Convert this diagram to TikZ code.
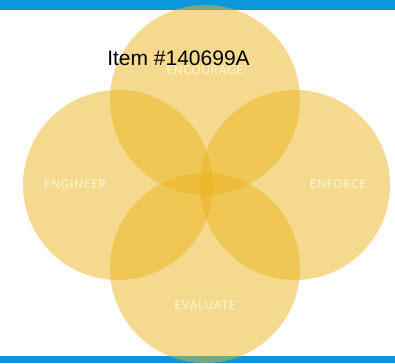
\documentclass[tikz,border=0pt]{standalone}
\usepackage{fontspec}
\setmainfont{Liberation Sans}
\newfontfamily\lblfont[LetterSpace=6]{Carlito}
\definecolor{barblue}{HTML}{0A98DA}
\definecolor{petal}{HTML}{ECB41E}
\definecolor{lbl}{HTML}{FFF6CC}
\begin{document}
\begin{tikzpicture}[x=1pt,y=-1pt,
  petalc/.style={fill=petal,fill opacity=0.5,draw=none},
  lbltxt/.style={text=lbl,font=\lblfont\fontsize{13.5}{15}\selectfont,inner sep=0pt}]
\useasboundingbox (0,0) rectangle (395,363);
\fill[white] (0,0) rectangle (395,363);
\fill[barblue] (0,0) rectangle (395,10);
\fill[barblue] (0,356) rectangle (395,363);
\path[petalc] (205,100) circle[radius=95];
\path[petalc] (118,185) circle[radius=95];
\path[petalc] (295,185) circle[radius=95];
\path[petalc] (205,268) circle[radius=95];
\node[lbltxt] (enc) at (205,70) {ENCOURAGE};
\node[lbltxt] (eng) at (75,184) {ENGINEER};
\node[lbltxt] (enf) at (338,184) {ENFORCE};
\node[lbltxt] (eva) at (205,305) {EVALUATE};
\node[font=\fontsize{21}{23}\selectfont,inner sep=0pt] (item) at (178.5,58) {Item \#140699A};
\end{tikzpicture}
\end{document}
